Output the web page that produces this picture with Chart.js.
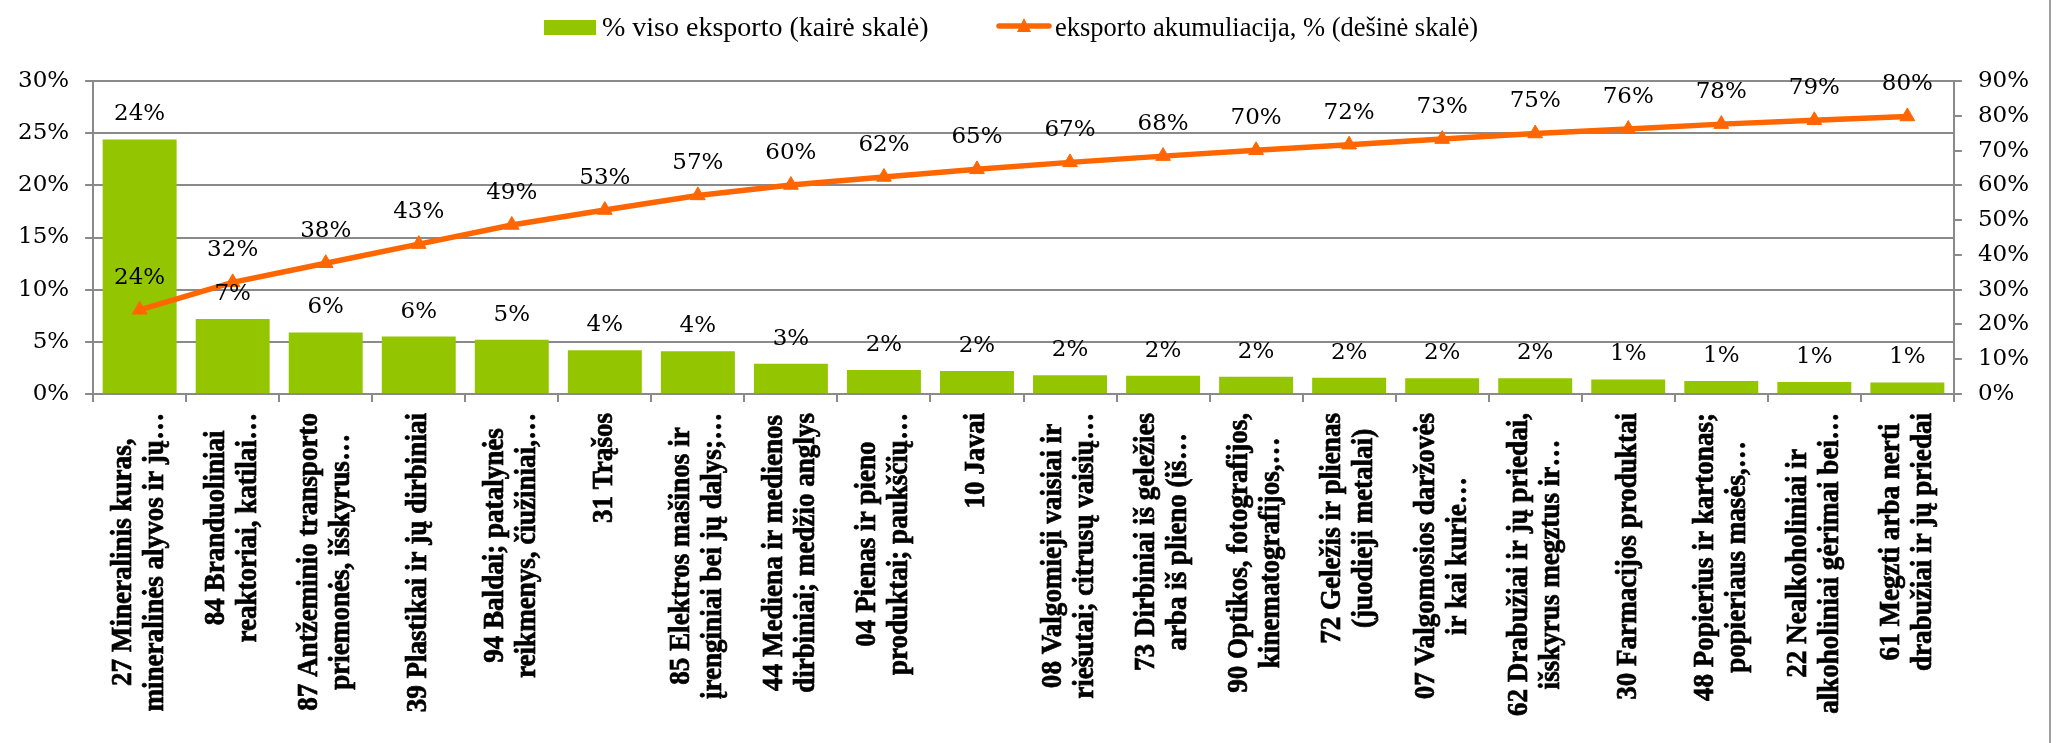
<!DOCTYPE html>
<html lang="lt">
<head>
<meta charset="utf-8">
<title>Eksportas pagal prekių grupes</title>
<script src="https://cdn.jsdelivr.net/npm/chart.js@4/dist/chart.umd.min.js"></script>
<style>
  body { margin: 0; background: #fff; }
  #wrap { position: relative; width: 2057px; height: 743px; }
  #frame { position: absolute; left: 2049px; top: 0; width: 2px; height: 743px; background: #a0a0a0; }
  .leg { position: absolute; top: 12px; height: 30px; display: flex; align-items: center;
         font-family: "Liberation Serif", serif; color: #000; white-space: nowrap; }
  .leg .box { width: 52px; height: 15px; background: #94c600; margin-right: 6px; }
  .leg svg { margin-right: 3px; }
</style>
</head>
<body>
<div id="wrap">
  <canvas id="chart" width="2057" height="743"></canvas>
  <div class="leg" style="left:544px; font-size:28px"><span class="box"></span>% viso eksporto (kairė skalė)</div>
  <div class="leg" style="left:996px; font-size:26.5px">
    <svg width="56" height="22" viewBox="0 0 56 22">
      <line x1="3" y1="10" x2="53" y2="10" stroke="#ff6600" stroke-width="5.5" stroke-linecap="round"/>
      <polygon points="28,2 35,16 21,16" fill="#ff6600"/>
    </svg>eksporto akumuliacija, % (dešinė skalė)
  </div>
  <div id="frame"></div>
</div>
<script>
// Data
const categories = [
  ['27 Mineralinis kuras,', 'mineralinės alyvos ir jų…'],
  ['84 Branduoliniai', 'reaktoriai, katilai…'],
  ['87 Antžeminio transporto', 'priemonės, išskyrus…'],
  ['39 Plastikai ir jų dirbiniai'],
  ['94 Baldai; patalynės', 'reikmenys, čiužiniai,…'],
  ['31 Trąšos'],
  ['85 Elektros mašinos ir', 'įrenginiai bei jų dalys;…'],
  ['44 Mediena ir medienos', 'dirbiniai; medžio anglys'],
  ['04 Pienas ir pieno', 'produktai; paukščių…'],
  ['10 Javai'],
  ['08 Valgomieji vaisiai ir', 'riešutai; citrusų vaisių…'],
  ['73 Dirbiniai iš geležies', 'arba iš plieno (iš…'],
  ['90 Optikos, fotografijos,', 'kinematografijos,…'],
  ['72 Geležis ir plienas', '(juodieji metalai)'],
  ['07 Valgomosios daržovės', 'ir kai kurie…'],
  ['62 Drabužiai ir jų priedai,', 'išskyrus megztus ir…'],
  ['30 Farmacijos produktai'],
  ['48 Popierius ir kartonas;', 'popieriaus masės,…'],
  ['22 Nealkoholiniai ir', 'alkoholiniai gėrimai bei…'],
  ['61 Megzti arba nerti', 'drabužiai ir jų priedai']
];
const shareValues = [24.4, 7.2, 5.9, 5.5, 5.2, 4.2, 4.1, 2.9, 2.3, 2.2, 1.8, 1.75, 1.65, 1.55, 1.52, 1.5, 1.4, 1.25, 1.15, 1.1];
const cumulativeValues = [24.2, 32.1, 37.6, 43.1, 48.6, 52.9, 57.1, 60.1, 62.4, 64.6, 66.6, 68.4, 70.1, 71.7, 73.3, 74.9, 76.2, 77.6, 78.7, 79.8];
const leftMax = 30, leftStep = 5;
const rightMax = 90, rightStep = 10;

const GREEN = '#94c600';
const ORANGE = '#ff6600';
const GRID = '#8a8a8a';
const numFont = { family: 'DejaVu Serif', size: 23 };

// value labels above bars and points
const valueLabels = {
  id: 'valueLabels',
  afterDatasetsDraw(chart) {
    const ctx = chart.ctx;
    ctx.save();
    ctx.font = '23px "DejaVu Serif"';
    ctx.fillStyle = '#000';
    ctx.textAlign = 'center';
    ctx.textBaseline = 'middle';
    chart.getDatasetMeta(0).data.forEach((bar, i) => {
      ctx.fillText(Math.round(shareValues[i]) + '%', bar.x, bar.y - 25);
    });
    chart.getDatasetMeta(1).data.forEach((pt, i) => {
      ctx.fillText(Math.round(cumulativeValues[i]) + '%', pt.x, pt.y - 32);
    });
    ctx.restore();
  }
};

// category names under the axis, lines centred on each other like Excel does
const categoryLabels = {
  id: 'categoryLabels',
  afterDraw(chart) {
    const scale = chart.scales.x;
    const ctx = chart.ctx;
    const top = scale.top + 19;
    const squeeze = 0.95;
    ctx.save();
    ctx.font = 'bold 28.5px "Liberation Serif"';
    ctx.fillStyle = '#000';
    ctx.strokeStyle = '#000';
    ctx.lineWidth = 0.7;
    ctx.textAlign = 'center';
    ctx.textBaseline = 'middle';
    categories.forEach((lines, i) => {
      const x = scale.getPixelForTick(i);
      const w = Math.max(...lines.map(t => ctx.measureText(t).width));
      ctx.save();
      ctx.translate(x, top);
      ctx.rotate(-Math.PI / 2);
      ctx.scale(squeeze, 1);
      lines.forEach((t, j) => {
        const y = (j - (lines.length - 1) / 2) * 32;
        ctx.fillText(t, -w / 2, y);
        ctx.strokeText(t, -w / 2, y);
      });
      ctx.restore();
    });
    ctx.restore();
  }
};

new Chart(document.getElementById('chart'), {
  data: {
    labels: categories,
    datasets: [
      {
        type: 'bar',
        label: '% viso eksporto (kairė skalė)',
        data: shareValues,
        backgroundColor: GREEN,
        yAxisID: 'y',
        categoryPercentage: 1,
        barPercentage: 0.795,
        order: 2
      },
      {
        type: 'line',
        label: 'eksporto akumuliacija, % (dešinė skalė)',
        data: cumulativeValues,
        borderColor: ORANGE,
        backgroundColor: ORANGE,
        borderWidth: 5.5,
        pointStyle: 'triangle',
        pointRadius: 8.5,
        pointBorderWidth: 1,
        pointBackgroundColor: ORANGE,
        pointBorderColor: ORANGE,
        tension: 0,
        yAxisID: 'y1',
        order: 1
      }
    ]
  },
  options: {
    responsive: false,
    animation: false,
    layout: { padding: { left: 2, right: 12, top: 81, bottom: 341 } },
    plugins: {
      legend: { display: false },
      tooltip: { enabled: false }
    },
    scales: {
      x: {
        offset: true,
        grid: { offset: true, drawOnChartArea: false, drawTicks: true, tickLength: 8, color: GRID, lineWidth: 2 },
        border: { display: true, color: GRID, width: 2 },
        ticks: { display: false }
      },
      y: {
        position: 'left',
        min: 0,
        max: leftMax,
        grid: { color: GRID, lineWidth: 2, tickLength: 8 },
        border: { display: true, color: GRID, width: 2 },
        ticks: { stepSize: leftStep, font: numFont, color: '#000', padding: 16, callback: v => v + '%' }
      },
      y1: {
        position: 'right',
        min: 0,
        max: rightMax,
        grid: { drawOnChartArea: false, color: GRID, lineWidth: 2, tickLength: 8 },
        border: { display: true, color: GRID, width: 2 },
        ticks: { stepSize: rightStep, font: numFont, color: '#000', padding: 16, callback: v => v + '%' }
      }
    }
  },
  plugins: [valueLabels, categoryLabels]
});
</script>
</body>
</html>
